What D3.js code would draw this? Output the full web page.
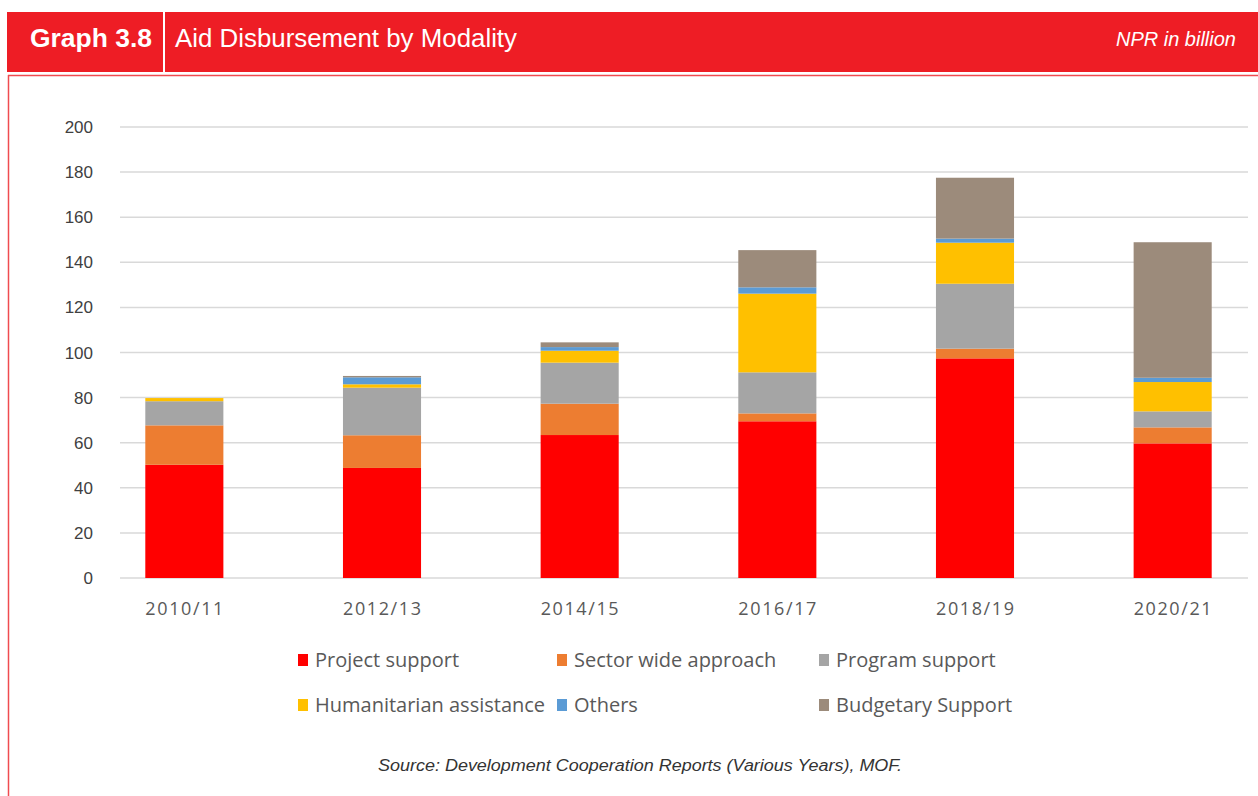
<!DOCTYPE html>
<html>
<head>
<meta charset="utf-8">
<script src="https://cdn.jsdelivr.net/npm/d3@7"></script>
<style>
  body { margin: 0; background: #fff; }
  svg { display: block; }
</style>
</head>
<body>
<div id="chart"></div>
<script>
// values (NPR billion)
var years = ["2010/11", "2012/13", "2014/15", "2016/17", "2018/19", "2020/21"];
var seriesNames = ["Project support", "Sector wide approach", "Program support",
                   "Humanitarian assistance", "Others", "Budgetary Support"];
var projectSupport = [50.2, 48.8, 63.4, 69.5, 97.4, 59.7];
var sectorWide     = [17.5, 14.5, 13.9, 3.5, 4.3, 7.1];
var programSupport = [10.7, 21.1, 18.2, 18.2, 28.8, 7.1];
var humanitarian   = [1.4, 1.5, 5.3, 34.9, 18.2, 13.0];
var others         = [0, 3.1, 1.6, 2.8, 1.8, 1.9];
var budgetary      = [0, 0.6, 2.1, 16.5, 27.0, 60.1];
var yTicks = [0, 20, 40, 60, 80, 100, 120, 140, 160, 180, 200];

var colors = ["#ff0000", "#ed7d31", "#a5a5a5", "#ffc000", "#5b9bd5", "#9c8b7b"];

var width = 1258, height = 796;
var svg = d3.select("#chart").append("svg")
    .attr("width", width)
    .attr("height", height);

var helv = "Liberation Sans, Arial, sans-serif";

// header band
var red = "#ee1d25";
svg.append("rect").attr("x", 7).attr("y", 12).attr("width", width - 7).attr("height", 60).attr("fill", red);
svg.append("line").attr("x1", 164).attr("x2", 164).attr("y1", 12).attr("y2", 72)
    .attr("stroke", "#fff").attr("stroke-width", 2);
svg.append("text").attr("x", 30).attr("y", 47)
    .attr("font-family", helv).attr("font-weight", "bold")
    .attr("font-size", 25).attr("fill", "#fff")
    .attr("textLength", 122).attr("lengthAdjust", "spacingAndGlyphs")
    .text("Graph 3.8");
svg.append("text").attr("x", 175).attr("y", 47)
    .attr("font-family", helv)
    .attr("font-size", 25).attr("fill", "#fff")
    .attr("textLength", 342).attr("lengthAdjust", "spacingAndGlyphs")
    .text("Aid Disbursement by Modality");
svg.append("text").attr("x", 1236).attr("y", 46).attr("text-anchor", "end")
    .attr("font-family", helv).attr("font-style", "italic")
    .attr("font-size", 20).attr("fill", "#fff").text("NPR in billion");

// frame lines
svg.append("line").attr("x1", 8).attr("x2", width).attr("y1", 75.5).attr("y2", 75.5)
    .attr("stroke", "#f04b50").attr("stroke-width", 1.5);
svg.append("line").attr("x1", 8.5).attr("x2", 8.5).attr("y1", 75).attr("y2", height)
    .attr("stroke", "#f04b50").attr("stroke-width", 1.5);

// scales
var x = d3.scaleBand()
    .domain(years)
    .range([86, 1271])
    .paddingInner(0.605)
    .paddingOuter(0.3);

var y = d3.scaleLinear()
    .domain([0, 200])
    .range([578, 127]);

var gridLeft = 120, gridRight = 1248;

// gridlines
svg.append("g").selectAll("line")
    .data(yTicks)
    .enter().append("line")
    .attr("x1", gridLeft).attr("x2", gridRight)
    .attr("y1", function(d) { return y(d); })
    .attr("y2", function(d) { return y(d); })
    .attr("stroke", "#d9d9d9").attr("stroke-width", 1.5);

// y labels
svg.append("g").selectAll("text")
    .data(yTicks)
    .enter().append("text")
    .attr("x", 93)
    .attr("y", function(d) { return y(d) + 6; })
    .attr("text-anchor", "end")
    .attr("font-family", helv).attr("font-size", 17)
    .attr("fill", "#404040")
    .text(function(d) { return d; });

// stacked bars
var allSeries = [projectSupport, sectorWide, programSupport, humanitarian, others, budgetary];
var table = years.map(function(yr, i) {
    var row = { year: yr };
    seriesNames.forEach(function(s, k) { row[s] = allSeries[k][i]; });
    return row;
});
var stack = d3.stack().keys(seriesNames)(table);

svg.append("g").selectAll("g")
    .data(stack)
    .enter().append("g")
    .attr("fill", function(d, i) { return colors[i]; })
    .selectAll("rect")
    .data(function(d) { return d; })
    .enter().append("rect")
    .attr("x", function(d) { return x(d.data.year); })
    .attr("y", function(d) { return y(d[1]); })
    .attr("width", x.bandwidth())
    .attr("height", function(d) { return y(d[0]) - y(d[1]); });

// x labels
var axisFont = "Open Sans, Noto Sans, sans-serif";
svg.append("g").selectAll("text")
    .data(years)
    .enter().append("text")
    .attr("x", function(d) { return x(d) + x.bandwidth() / 2; })
    .attr("y", 615)
    .attr("text-anchor", "middle")
    .attr("font-family", axisFont).attr("font-size", 18)
    .attr("textLength", 78).attr("lengthAdjust", "spacing")
    .attr("fill", "#595959")
    .text(function(d) { return d; });

// legend
var legendPos = [[298, 660], [557, 660], [819, 660], [298, 705], [557, 705], [819, 705]];
var legend = svg.append("g").selectAll("g")
    .data(seriesNames)
    .enter().append("g")
    .attr("transform", function(d, i) { return "translate(" + legendPos[i][0] + "," + legendPos[i][1] + ")"; });
legend.append("rect")
    .attr("x", 0).attr("y", -6).attr("width", 10).attr("height", 12)
    .attr("fill", function(d, i) { return colors[i]; });
legend.append("text")
    .attr("x", 17).attr("y", 7)
    .attr("font-family", axisFont).attr("font-size", 20)
    .attr("fill", "#595959")
    .text(function(d) { return d; });

// source note
svg.append("text")
    .attr("x", 640).attr("y", 771)
    .attr("text-anchor", "middle")
    .attr("font-family", helv).attr("font-style", "italic")
    .attr("font-size", 16).attr("fill", "#333")
    .attr("textLength", 524).attr("lengthAdjust", "spacingAndGlyphs")
    .text("Source: Development Cooperation Reports (Various Years), MOF.");
</script>
</body>
</html>
